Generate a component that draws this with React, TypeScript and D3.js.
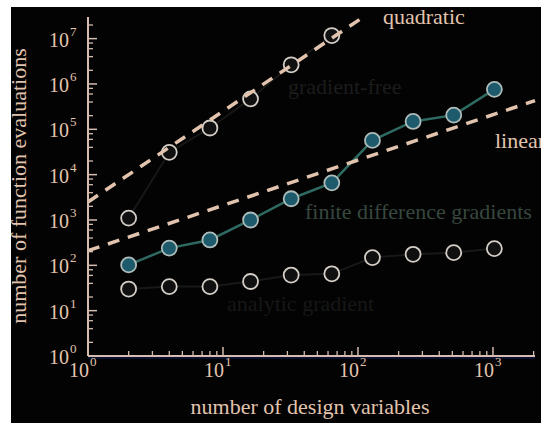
import * as d3 from "d3";

// design variable counts (powers of two)
const nVars = [2, 4, 8, 16, 32, 64, 128, 256, 512, 1024];

const gradientFree = [1100, 31000, 107000, 470000, 2650000, 11700000];
const finiteDiff = [102, 240, 363, 1000, 2940, 6600, 57000, 149000, 205000, 760000];
const analytic = [30, 34, 34, 44, 61, 65, 148, 175, 190, 234];

// reference slopes
const quadX = [1, 110];
const quadY = [2500, 30250000];
const linX = [1, 2048];
const linY = [210, 430000];

const xMajor = [1, 10, 100, 1000];
const xExp = ["0", "1", "2", "3"];
const yMajor = [1, 10, 100, 1e3, 1e4, 1e5, 1e6, 1e7];
const yExp = ["0", "1", "2", "3", "4", "5", "6", "7"];

const W = 541;
const H = 423;
const FONT = "'Liberation Serif', 'DejaVu Serif', serif";
const TAN = "#e2c4ae";
const AXIS = "#d6bcae";

export default function App() {
  const x = d3.scaleLog().domain([1, 2048]).range([88, 535]);
  const y = d3.scaleLog().domain([1, 3.0e7]).range([356, 17]);

  const line = d3
    .line<[number, number]>()
    .x((d) => x(d[0]))
    .y((d) => y(d[1]));

  const pairs = (xs: number[], ys: number[]) =>
    ys.map((v, i) => [xs[i], v] as [number, number]);

  // minor ticks
  const xMinor: number[] = [];
  for (const p of [1, 10, 100, 1000]) {
    for (let k = 2; k <= 9; k++) if (p * k <= 2048) xMinor.push(p * k);
  }
  const yMinor: number[] = [];
  for (const p of yMajor) {
    for (const k of [2, 4, 6, 8]) if (p * k <= 3.0e7) yMinor.push(p * k);
  }

  const x0 = x.range()[0];
  const y0 = y.range()[0];

  return (
    <svg
      width={W}
      height={H}
      style={{ position: "absolute", left: 0, top: 0, background: "#fff" }}
      fontFamily={FONT}
    >
      <rect x={11} y={7} width={W - 11} height={H - 7} fill="#030303" />

      {/* series lines */}
      <path d={line(pairs(nVars, gradientFree)) ?? ""} fill="none" stroke="#171717" strokeWidth={2} />
      <path d={line(pairs(nVars, analytic)) ?? ""} fill="none" stroke="#181818" strokeWidth={2} />
      <path d={line(pairs(nVars, finiteDiff)) ?? ""} fill="none" stroke="#2e6a62" strokeWidth={2.5} />

      {/* markers */}
      {gradientFree.map((v, i) => (
        <circle key={"g" + i} cx={x(nVars[i])} cy={y(v)} r={7.5} fill="#101010" stroke="#d4cec6" strokeWidth={1.8} />
      ))}
      {analytic.map((v, i) => (
        <circle key={"a" + i} cx={x(nVars[i])} cy={y(v)} r={7.5} fill="#101010" stroke="#d4cec6" strokeWidth={1.8} />
      ))}
      {finiteDiff.map((v, i) => (
        <circle key={"f" + i} cx={x(nVars[i])} cy={y(v)} r={7.5} fill="#1d5a6c" stroke="#aebcba" strokeWidth={1.8} />
      ))}

      {/* dashed reference lines */}
      <path d={line(pairs(quadX, quadY)) ?? ""} fill="none" stroke={TAN} strokeWidth={3.5} strokeDasharray="12 9" />
      <path d={line(pairs(linX, linY)) ?? ""} fill="none" stroke={TAN} strokeWidth={3.5} strokeDasharray="12 9" />

      {/* axes */}
      <line x1={x0} x2={x.range()[1]} y1={y0 + 2} y2={y0 + 2} stroke="#0b1030" strokeWidth={2} />
      <line x1={x0} x2={x.range()[1]} y1={y0} y2={y0} stroke={AXIS} strokeWidth={2} />
      <line x1={x0} x2={x0} y1={y.range()[1]} y2={y0} stroke={AXIS} strokeWidth={2} />

      {xMinor.map((t) => (
        <line key={"xm" + t} x1={x(t)} x2={x(t)} y1={y0} y2={y0 - 5} stroke={AXIS} strokeWidth={1.3} />
      ))}
      {xMajor.map((t) => (
        <line key={"xM" + t} x1={x(t)} x2={x(t)} y1={y0} y2={y0 - 9} stroke={AXIS} strokeWidth={1.5} />
      ))}
      {yMinor.map((t) => (
        <line key={"ym" + t} x1={x0} x2={x0 + 5} y1={y(t)} y2={y(t)} stroke={AXIS} strokeWidth={1.3} />
      ))}
      {yMajor.map((t) => (
        <line key={"yM" + t} x1={x0} x2={x0 + 9} y1={y(t)} y2={y(t)} stroke={AXIS} strokeWidth={1.5} />
      ))}

      {/* tick labels */}
      {xMajor.map((t, i) => (
        <g key={"xl" + t} fill={TAN}>
          <text x={x(t) + 1} y={377} fontSize={20} textAnchor="end">10</text>
          <text x={x(t) + 2} y={366} fontSize={13}>{xExp[i]}</text>
        </g>
      ))}
      {yMajor.map((t, i) => (
        <g key={"yl" + t} fill={TAN}>
          <text x={69} y={y(t) + 8} fontSize={20} textAnchor="end">10</text>
          <text x={70} y={y(t) - 3} fontSize={13}>{yExp[i]}</text>
        </g>
      ))}

      {/* axis titles */}
      <text x={310} y={414} fontSize={22} fill={TAN} textAnchor="middle">
        number of design variables
      </text>
      <text
        transform={`translate(26,186) rotate(-90)`}
        fontSize={22}
        fill={TAN}
        textAnchor="middle"
      >
        number of function evaluations
      </text>

      {/* annotations */}
      <text x={383} y={24} fontSize={22} fill={TAN}>quadratic</text>
      <text x={495} y={148} fontSize={22} fill={TAN}>linear</text>
      <text x={288} y={94} fontSize={22} fill="#1c1c1c">gradient-free</text>
      <text x={305} y={219} fontSize={22} fill="#36473f">finite difference gradients</text>
      <text x={227} y={311} fontSize={22} fill="#171717">analytic gradient</text>
    </svg>
  );
}
